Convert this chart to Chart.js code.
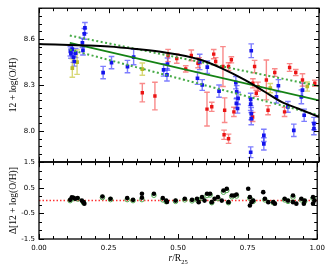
<!DOCTYPE html>
<html>
<head>
<meta charset="utf-8">
<script src="https://cdn.jsdelivr.net/npm/chart.js@4.4.0/dist/chart.umd.min.js"></script>
<style>
  html, body { margin: 0; padding: 0; background: #fff; }
  #wrap { position: relative; width: 330px; height: 275px; }
  #top, #bottom { position: absolute; left: 0; }
  #top { top: 0; }
  #bottom { top: 154px; }
</style>
</head>
<body>
<div id="wrap">
  <canvas id="top" width="330" height="170"></canvas>
  <canvas id="bottom" width="330" height="121"></canvas>
</div>
<script>
/* Puntos azules (x, valor, error) */
var blueX = [.112,.114,.119,.123,.126,.131,.155,.157,.162,.164,.229,.259,.316,.338,.445,.457,.459,.566,.574,.583,.601,.643,.703,.706,.705,.709,.711,.756,.756,.758,.758,.756,.758,.803,.803,.848,.855,.889,.910,.937,.941,.947,.982,.982];
var blueY = [8.519,8.504,8.534,8.482,8.453,8.508,8.574,8.525,8.633,8.672,8.381,8.446,8.420,8.482,8.398,8.366,8.436,8.344,8.45,8.300,8.416,8.26,8.315,8.256,8.18,8.147,8.213,8.206,8.175,8.114,8.081,7.862,8.523,7.972,7.917,8.223,8.295,8.158,8.005,8.223,8.267,8.103,8.049,8.016];
var blueErr = [.03,.03,.03,.035,.03,.03,.03,.03,.035,.035,.04,.04,.04,.05,.04,.04,.04,.04,.05,.035,.04,.04,.04,.04,.03,.03,.04,.04,.04,.04,.04,.035,.045,.04,.04,.04,.04,.035,.04,.045,.045,.04,.04,.04];

/* Puntos rojos */
var redX = [.369,.414,.461,.492,.524,.544,.568,.572,.600,.617,.624,.631,.657,.663,.661,.677,.677,.687,.696,.763,.764,.770,.776,.782,.812,.818,.842,.877,.895,.917,.941,.985];
var redY = [8.250,8.228,8.492,8.472,8.405,8.493,8.442,8.458,8.143,8.158,8.501,8.453,8.42,8.136,7.976,7.95,8.42,8.464,8.125,8.092,8.311,8.42,8.246,8.289,8.333,8.136,8.381,8.125,8.414,8.381,8.333,8.311];
var redErr = [.06,.09,.04,.03,.02,.035,.03,.02,.11,.03,.03,.025,.13,.08,.03,.03,.025,.02,.03,.03,.03,.04,.02,.03,.13,.03,.025,.03,.025,.02,.04,.02];

/* Puntos amarillos */
var yelX = [.119,.136,.369,.826,.958];
var yelY = [8.41,8.449,8.403,8.28,8.29];
var yelErr = [.06,.08,.04,.03,.03];

/* Ajustes */
var blackX = [0,.25,.35,.45,.568,.651,.735,.806,.866,.925,1.0];
var blackY = [8.567,8.551,8.534,8.512,8.469,8.41,8.333,8.256,8.19,8.147,8.092];
var fitX = [0.11, 1.0];
var fitY = [8.575, 8.20];
var fitUpY = [8.622, 8.293];
var fitLowY = [8.53, 8.103];

/* Residuos (panel inferior) */
var residX = [.112,.118,.124,.130,.139,.154,.160,.163,.228,.257,.317,.338,.370,.370,.413,.445,.457,.460,.491,.524,.550,.568,.574,.586,.595,.604,.615,.621,.631,.643,.657,.663,.675,.681,.693,.702,.710,.752,.758,.758,.764,.770,.806,.812,.824,.842,.848,.883,.895,.913,.913,.925,.943,.952,.955,.985,.985,.990];
var residBlack = [.03,.13,.11,.07,.10,0,-.06,-.12,.16,.07,.10,.03,.27,.11,.27,.10,0,-.05,0,.07,.03,.07,-.06,.135,0,.265,.265,-.06,.07,.135,0,.395,.46,-.06,.20,.20,.24,.46,.135,-.19,-.06,0,.33,.07,-.06,-.06,-.12,.07,0,.20,-.06,-.12,.07,-.12,0,.135,-.12,0];
var residGreenX = [.112,.124,.139,.160,.228,.257,.317,.338,.370,.413,.445,.457,.491,.524,.550,.568,.586,.604,.615,.621,.643,.663,.675,.681,.693,.710,.758,.770,.812,.842,.883,.895,.913,.943,.955,.985];
var residGreen = [0,.08,.06,-.08,.12,.04,.04,0,.04,.21,.03,-.04,-.03,.03,-.01,.03,.09,.20,.22,-.08,.08,.33,.40,-.08,.15,.18,.09,-.03,.03,-.08,.03,-.03,.14,.03,-.03,.09];
var zeroX = [0, 1];
var zeroY = [0, 0];

/* Etiquetas de los ejes */
var xTicks = [0, 0.25, 0.5, 0.75, 1.0];
var topYTicks = [8.0, 8.3, 8.6];
var bottomYTicks = [-1.5, -0.5, 0.5, 1.5];

function pares(xs, ys) {
    return xs.map(function (x, i) { return { x: x, y: ys[i] }; });
}

Chart.defaults.font.family = 'DejaVu Sans';
Chart.defaults.font.size = 7;
Chart.defaults.color = '#000';

/* Barras de error */
var barrasError = {
    id: 'barrasError',
    beforeDatasetsDraw: function (chart) {
        var ctx = chart.ctx, sy = chart.scales.y;
        chart.data.datasets.forEach(function (ds, i) {
            if (!ds.errs) return;
            var meta = chart.getDatasetMeta(i);
            ctx.save();
            ctx.strokeStyle = ds.errColor;
            ctx.lineWidth = 1.4;
            meta.data.forEach(function (pt, j) {
                var v = ds.data[j].y, e = ds.errs[j];
                var t = sy.getPixelForValue(v + e), b = sy.getPixelForValue(v - e);
                ctx.beginPath();
                ctx.moveTo(pt.x, t); ctx.lineTo(pt.x, b);
                ctx.moveTo(pt.x - 2.8, t); ctx.lineTo(pt.x + 2.8, t);
                ctx.moveTo(pt.x - 2.8, b); ctx.lineTo(pt.x + 2.8, b);
                ctx.stroke();
            });
            ctx.restore();
        });
    }
};

/* Marco con marcas hacia dentro */
var marcoEjes = {
    id: 'marcoEjes',
    afterDraw: function (chart, args, opts) {
        var a = chart.chartArea, ctx = chart.ctx;
        var sx = chart.scales.x, sy = chart.scales.y;
        ctx.save();
        ctx.strokeStyle = '#000';
        ctx.lineWidth = 1;
        ctx.beginPath();
        for (var k = 0; k <= 20; k++) {
            var len = (k % 5 === 0) ? 5 : 3;
            var px = Math.round(sx.getPixelForValue(k * 0.05)) + 0.5;
            ctx.moveTo(px, a.top); ctx.lineTo(px, a.top + len);
            ctx.moveTo(px, a.bottom); ctx.lineTo(px, a.bottom - len);
        }
        for (var m = 0; m <= opts.n; m++) {
            var v = opts.start + m * opts.step;
            var major = opts.major.some(function (q) { return Math.abs(q - v) < 1e-6; });
            var l2 = major ? 5 : 3;
            var py = Math.round(sy.getPixelForValue(v)) + 0.5;
            ctx.moveTo(a.left, py); ctx.lineTo(a.left + l2, py);
            ctx.moveTo(a.right, py); ctx.lineTo(a.right - l2, py);
        }
        ctx.stroke();
        ctx.lineWidth = 1.3;
        ctx.strokeRect(a.left, a.top, a.right - a.left, a.bottom - a.top);
        ctx.restore();
    }
};

/* Titulo del eje x con subindice */
var tituloX = {
    id: 'tituloX',
    afterDraw: function (chart) {
        var ctx = chart.ctx, a = chart.chartArea;
        var cx = (a.left + a.right) / 2, base = 107;
        ctx.save();
        ctx.fillStyle = '#000';
        ctx.textBaseline = 'alphabetic';
        var f1 = 'italic 9.5px "Liberation Serif"', f2 = '9.5px "Liberation Serif"', f3 = '6.5px "Liberation Serif"';
        ctx.font = f1; var w1 = ctx.measureText('r').width;
        ctx.font = f2; var w2 = ctx.measureText('/R').width;
        ctx.font = f3; var w3 = ctx.measureText('25').width;
        var x0 = cx - (w1 + w2 + w3) / 2;
        ctx.font = f1; ctx.fillText('r', x0, base);
        ctx.font = f2; ctx.fillText('/R', x0 + w1, base);
        ctx.font = f3; ctx.fillText('25', x0 + w1 + w2, base + 2.5);
        ctx.restore();
    }
};

var tituloY = { display: true, font: { family: 'Liberation Serif', size: 9.5 }, padding: { top: 8, bottom: 0 } };

var graficoArriba = new Chart(document.getElementById('top').getContext('2d'), {
    type: 'scatter',
    data: {
        datasets: [
            { data: pares(blackX, blackY), showLine: true, borderColor: '#000', borderWidth: 2, pointRadius: 0, tension: 0.4, cubicInterpolationMode: 'monotone' },
            { data: pares(fitX, fitY), showLine: true, borderColor: 'rgb(20,130,20)', borderWidth: 1.8, pointRadius: 0 },
            { data: pares(fitX, fitUpY), showLine: true, borderColor: 'rgb(70,170,70)', borderWidth: 2, borderDash: [2, 2.5], pointRadius: 0 },
            { data: pares(fitX, fitLowY), showLine: true, borderColor: 'rgb(70,170,70)', borderWidth: 2, borderDash: [2, 2.5], pointRadius: 0 },
            { data: pares(blueX, blueY), errs: blueErr, errColor: 'rgba(40,40,255,0.6)', pointStyle: 'rect', pointRadius: 2.6, backgroundColor: 'rgb(20,20,235)', borderWidth: 0 },
            { data: pares(redX, redY), errs: redErr, errColor: 'rgba(245,60,60,0.6)', pointStyle: 'rect', pointRadius: 2.4, backgroundColor: 'rgb(235,20,20)', borderWidth: 0 },
            { data: pares(yelX, yelY), errs: yelErr, errColor: 'rgba(200,200,60,0.7)', pointStyle: 'rect', pointRadius: 2.6, backgroundColor: 'rgb(185,185,40)', borderWidth: 0 }
        ]
    },
    options: {
        animation: false,
        responsive: false,
        devicePixelRatio: 1,
        layout: { padding: { left: 0, right: 11, top: 8, bottom: 8 } },
        plugins: {
            legend: { display: false },
            tooltip: { enabled: false },
            marcoEjes: { start: 7.8, step: 0.05, n: 20, major: topYTicks }
        },
        scales: {
            x: { display: false, min: 0, max: 1 },
            y: {
                min: 7.8, max: 8.8,
                afterFit: function (s) { s.width = 39; },
                afterBuildTicks: function (s) { s.ticks = topYTicks.map(function (v) { return { value: v }; }); },
                grid: { display: false, drawTicks: false },
                border: { display: false },
                ticks: { padding: 4, callback: function (v) { return v.toFixed(1); } },
                title: Object.assign({ text: '12 + log(O/H)' }, tituloY)
            }
        }
    },
    plugins: [barrasError, marcoEjes]
});

var graficoAbajo = new Chart(document.getElementById('bottom').getContext('2d'), {
    type: 'scatter',
    data: {
        datasets: [
            { data: pares(residX, residBlack), pointRadius: 2.3, backgroundColor: '#000', borderWidth: 0 },
            { data: pares(residGreenX, residGreen), pointRadius: 2.3, backgroundColor: 'rgba(0,0,0,0)', borderColor: 'rgb(80,170,80)', borderWidth: 1 },
            { data: pares(zeroX, zeroY), showLine: true, borderColor: 'rgb(255,50,50)', borderWidth: 1.5, borderDash: [1.5, 2], pointRadius: 0 }
        ]
    },
    options: {
        animation: false,
        responsive: false,
        devicePixelRatio: 1,
        layout: { padding: { left: 0, right: 11, top: 8, bottom: 0 } },
        plugins: {
            legend: { display: false },
            tooltip: { enabled: false },
            marcoEjes: { start: -1.5, step: 1 / 3, n: 9, major: bottomYTicks }
        },
        scales: {
            x: {
                min: 0, max: 1,
                afterFit: function (s) { s.height = 36; },
                afterBuildTicks: function (s) { s.ticks = xTicks.map(function (v) { return { value: v }; }); },
                grid: { display: false, drawTicks: false },
                border: { display: false },
                ticks: { padding: 5, autoSkip: false, maxRotation: 0, callback: function (v) { return v.toFixed(2); } }
            },
            y: {
                min: -1.5, max: 1.5,
                afterFit: function (s) { s.width = 39; },
                afterBuildTicks: function (s) { s.ticks = bottomYTicks.map(function (v) { return { value: v }; }); },
                grid: { display: false, drawTicks: false },
                border: { display: false },
                ticks: { padding: 4, callback: function (v) { return v.toFixed(1); } },
                title: Object.assign({ text: 'Δ[12 + log(O/H)]' }, tituloY)
            }
        }
    },
    plugins: [marcoEjes, tituloX]
});
</script>
</body>
</html>
